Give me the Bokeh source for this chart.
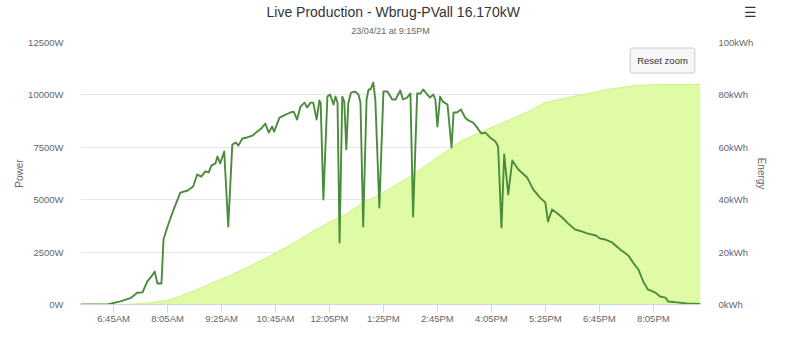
from bokeh.plotting import figure
from bokeh.models import (Range1d, LinearAxis, FixedTicker, PrintfTickFormatter,
                          Label, Legend, LegendItem, ColumnDataSource, Title)
from bokeh.embed import file_html
from bokeh.resources import INLINE

FONT = "Liberation Sans"
NAN = float("nan")

# ---------------- data ----------------
power_times = [
    "05:56", "06:36", "06:55", "07:10", "07:20", "07:28", "07:35", "07:40", "07:46", "07:50",
    "07:56", "07:59", "08:05", "08:14", "08:24", "08:35", "08:43", "08:49", "08:55", "09:01",
    "09:06", "09:10", "09:16", "09:19", "09:23", "09:29", "09:35", "09:41", "09:46", "09:50",
    "09:56", "10:03", "10:11", "10:18", "10:24", "10:30", "10:35", "10:40", "10:43", "10:51",
    "11:00", "11:07", "11:12", "11:17", "11:22", "11:28", "11:32", "11:37", "11:41", "11:46",
    "11:50", "11:52", "11:56", "12:02", "12:06", "12:11", "12:14", "12:17", "12:20", "12:24",
    "12:27", "12:30", "12:33", "12:37", "12:43", "12:48", "12:51", "12:55", "13:00", "13:03",
    "13:06", "13:10", "13:13", "13:19", "13:25", "13:31", "13:38", "13:43", "13:50", "13:54",
    "14:00", "14:05", "14:09", "14:15", "14:20", "14:24", "14:30", "14:34", "14:39", "14:42",
    "14:45", "14:49", "14:53", "15:00", "15:06", "15:09", "15:14", "15:20", "15:26", "15:31",
    "15:38", "15:44", "15:50", "15:56", "16:03", "16:11", "16:15", "16:20", "16:24", "16:30",
    "16:36", "16:45", "16:58", "17:07", "17:17", "17:25", "17:29", "17:35", "17:43", "17:50",
    "17:59", "18:09", "18:20", "18:27", "18:40", "18:46", "18:54", "19:04", "19:16", "19:28",
    "19:35", "19:43", "19:50", "19:57", "20:08", "20:15", "20:23", "20:27", "20:40", "20:55",
    "21:15",
]
power_watts = [
    0, 0, 150, 300, 560, 580, 1100, 1290, 1570, 1000,
    1000, 3100, 3720, 4530, 5340, 5440, 5630, 6200, 6100, 6350,
    6300, 6630, 6730, 7060, 6730, 7300, 3720, 7630, 7730, 7580,
    7920, 7970, 8060, 8250, 8400, 8630, 8200, 8490, 8250, 8920,
    9060, 9160, 9200, 8820, 9440, 9630, 9400, 9630, 9630, 8820,
    9730, 9630, 5010, 9920, 10020, 9540, 9920, 9630, 2960, 9920,
    9680, 7400, 9630, 10110, 10160, 10020, 9630, 3720, 9780, 10260,
    10260, 10590, 9780, 4630, 10160, 10160, 9780, 9780, 10210, 9780,
    9870, 10070, 4200, 10070, 10070, 10260, 10020, 9870, 10020, 9780,
    8490, 9920, 9680, 9540, 7490, 9160, 9160, 9300, 8920, 8780,
    8680, 8440, 8160, 8200, 7970, 7780, 7540, 3670, 7160, 5250,
    6870, 6440, 6060, 5490, 5100, 4870, 3960, 4530, 4340, 4150,
    3860, 3580, 3480, 3390, 3290, 3150, 3100, 2960, 2620, 2340,
    2000, 1670, 1100, 720, 570, 380, 330, 140, 100, 50,
    30,
]

energy_times = [
    "05:56", "06:55", "07:10", "07:35", "08:05", "08:24", "08:49", "09:13", "09:38", "10:03",
    "10:27", "10:52", "11:17", "11:41", "12:06", "12:31", "12:55", "13:20", "14:05", "14:30",
    "15:19", "16:00", "16:33", "16:57", "17:25", "18:07", "18:57", "19:41", "20:20", "21:15",
]
energy_kwh = [
    0.0, 0.0, 0.1, 0.6, 1.6, 3.2, 5.7, 8.4, 11.1, 14.1,
    17.2, 20.6, 24.2, 28.0, 31.5, 34.6, 39.0, 42.0, 48.9, 53.4,
    62.2, 67.0, 70.6, 73.3, 77.1, 79.4, 82.1, 83.6, 84.0, 84.0,
]

x_tick_labels = ["6:45AM", "8:05AM", "9:25AM", "10:45AM", "12:05PM", "1:25PM",
                 "2:45PM", "4:05PM", "5:25PM", "6:45PM", "8:05PM"]
power_ticks = [0, 2500, 5000, 7500, 10000, 12500]
energy_ticks = [0, 20, 40, 60, 80, 100]

legend_names = ["Energy Used", "Energy Generated", "Power Used", "Power Generated",
                "Temperature", "Voltage"]
legend_kinds = ["circle", "circle", "line", "line", "line", "line"]
legend_colors = ["#f2a1aa", "#d8f797", "#e0606e", "#4a8c3c", "#f0a25e", "#d27fc2"]

title_text = "Live Production - Wbrug-PVall 16.170kW"
subtitle_text = "23/04/21 at 9:15PM"
menu_icon = "\u2630"


def hhmm_to_min(s):
    h, m = s.split(":")
    return int(h) * 60 + int(m)


def label_to_min(s):
    suffix = s[-2:]
    h, m = s[:-2].split(":")
    h = int(h) % 12 + (12 if suffix == "PM" else 0)
    return h * 60 + int(m)


power_src = ColumnDataSource(dict(t=[hhmm_to_min(s) for s in power_times], w=power_watts))
energy_src = ColumnDataSource(dict(t=[hhmm_to_min(s) for s in energy_times], e=energy_kwh,
                                   z=[0] * len(energy_kwh)))
tick_pos = [label_to_min(s) for s in x_tick_labels]

# ---------------- figure ----------------
p = figure(frame_width=620, frame_height=262, output_backend="svg", toolbar_location=None,
           title=None, x_range=Range1d(356, 1275), y_range=Range1d(0, 12500),
           min_border_left=80, min_border_right=100, min_border_top=0, min_border_bottom=0)
p.extra_y_ranges = {"energy": Range1d(0, 100)}
p.outline_line_color = None
p.background_fill_color = "white"
p.border_fill_color = "white"

p.varea(x="t", y1="z", y2="e", source=energy_src, y_range_name="energy",
        fill_color="#e0fba6", fill_alpha=1.0)
p.line(x="t", y="e", source=energy_src, y_range_name="energy",
       line_color="#cdf186", line_width=1)
p.line(x="t", y="w", source=power_src, line_color="#4a8c3c", line_width=1.9,
       line_join="round")

# grid
p.xgrid.visible = False
p.ygrid.grid_line_color = "#e6e6e6"
p.ygrid.ticker = FixedTicker(ticks=power_ticks)

# x axis
xa = p.xaxis[0]
xa.ticker = FixedTicker(ticks=tick_pos)
xa.major_label_overrides = {tp: lab for tp, lab in zip(tick_pos, x_tick_labels)}
xa.axis_label = None
xa.axis_label_standoff = 0
xa.axis_label_text_font_size = "0px"
xa.axis_line_color = "#ccd6eb"
xa.major_tick_line_color = "#ccd6eb"
xa.major_tick_out = 8
xa.major_tick_in = 0
xa.minor_tick_line_color = None
xa.minor_tick_out = 0
xa.major_label_standoff = 0
xa.major_label_text_font = FONT
xa.major_label_text_font_size = "9.5px"
xa.major_label_text_color = "#666666"

# left axis
ya = p.yaxis[0]
ya.ticker = FixedTicker(ticks=power_ticks)
ya.formatter = PrintfTickFormatter(format="%dW")
ya.axis_line_color = None
ya.major_tick_line_color = None
ya.minor_tick_line_color = None
ya.major_label_standoff = 11
ya.major_label_text_font = FONT
ya.major_label_text_font_size = "9.5px"
ya.major_label_text_color = "#666666"
ya.axis_label = "Power"
ya.axis_label_text_font = FONT
ya.axis_label_text_font_size = "10px"
ya.axis_label_text_font_style = "normal"
ya.axis_label_text_color = "#666666"
ya.axis_label_standoff = 0

# right axis
ra = LinearAxis(y_range_name="energy", ticker=FixedTicker(ticks=energy_ticks),
                formatter=PrintfTickFormatter(format="%dkWh"))
ra.axis_line_color = None
ra.major_tick_line_color = None
ra.minor_tick_line_color = None
ra.major_label_standoff = 12
ra.major_label_text_font = FONT
ra.major_label_text_font_size = "9.5px"
ra.major_label_text_color = "#666666"
ra.axis_label = "Energy"
ra.axis_label_text_font = FONT
ra.axis_label_text_font_size = "10px"
ra.axis_label_text_font_style = "normal"
ra.axis_label_text_color = "#666666"
ra.axis_label_standoff = 0
p.add_layout(ra, "right")

# titles (stacked outward from the frame: subtitle, then title with the menu icon)
p.add_layout(Title(text=subtitle_text, align="center", vertical_align="top",
                   text_font=FONT, text_font_size="9px", text_font_style="normal",
                   text_color="#666666", standoff=9), "above")
gap = "\u2003" * 16
p.add_layout(Title(text=title_text + gap + menu_icon, align="left", offset=186,
                   text_font=FONT, text_font_size="14px", text_font_style="normal",
                   text_color="#333333", standoff=3), "above")

# reset zoom button (inside the plot frame; screen units from frame left/bottom)
p.add_layout(Label(x=582, y=244, x_units="screen", y_units="screen",
                   text="Reset zoom", text_font=FONT,
                   text_font_size="9.5px", text_color="#333333",
                   text_align="center", text_baseline="middle",
                   background_fill_color="#f7f7f7", border_line_color="#cccccc",
                   padding=7, border_radius=2))

# legend
items = []
for name, kind, col in zip(legend_names, legend_kinds, legend_colors):
    if kind == "circle":
        r = p.scatter(x=[NAN], y=[NAN], marker="circle", size=10, fill_color=col,
                      line_color=col, line_width=5)
    else:
        r = p.line(x=[NAN], y=[NAN], line_color=col, line_width=2)
    items.append(LegendItem(label=name, renderers=[r]))
lg = Legend(items=items, location="center", orientation="horizontal",
            border_line_color=None, background_fill_alpha=0,
            padding=0, margin=0, spacing=13, glyph_width=12, glyph_height=10,
            label_height=10, label_standoff=4, label_text_font=FONT,
            label_text_font_size="9.5px", label_text_font_style="bold",
            label_text_color="#333333", label_text_baseline="middle")
p.add_layout(lg, "below")

open("out.html", "w").write(file_html(p, INLINE))
